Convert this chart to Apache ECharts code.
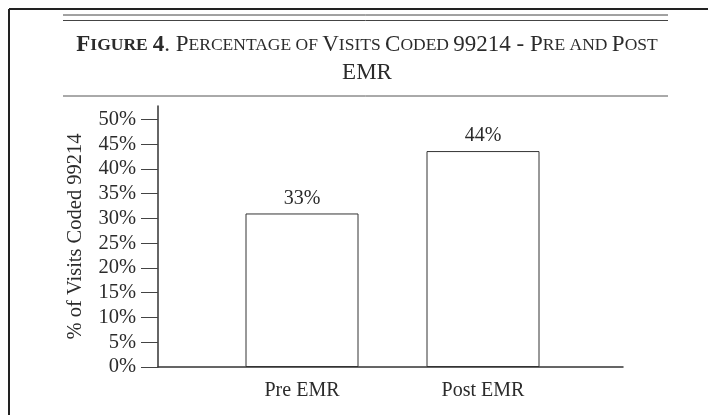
<!DOCTYPE html>
<html>
<head>
<meta charset="utf-8">
<script src="https://cdn.jsdelivr.net/npm/echarts@6/dist/echarts.min.js"></script>
<style>
  html, body { margin: 0; padding: 0; background: #fff; }
  #main { width: 708px; height: 415px; }
</style>
</head>
<body>
<div id="main"></div>
<script>
// data
var categories = ['Pre EMR', 'Post EMR'];
var barValues = [31, 43.6];          // bar heights as drawn
var barLabels = ['33%', '44%'];      // printed labels
var yTicks = [0, 5, 10, 15, 20, 25, 30, 35, 40, 45, 50];

var serif = 'Liberation Serif';
var ink = '#2b2b2b';
var yMax = 52.7;

var myChart = echarts.init(document.getElementById('main'));

var option = {
  backgroundColor: '#fff',
  animation: false,
  title: {
    text: '{bb|F}{bs|IGURE} {bb|4}{c|. P}{s|ERCENTAGE OF }{c|V}{s|ISITS }{c|C}{s|ODED }{c|99214 - P}{s|RE AND }{c|P}{s|OST}\n{c|EMR}',
    left: 362,
    top: 26,
    textAlign: 'center',
    textStyle: {
      fontWeight: 'normal',
      rich: {
        bb: { fontFamily: serif, fontSize: 23, fontWeight: 'bold', color: ink, lineHeight: 28 },
        bs: { fontFamily: serif, fontSize: 17.5, fontWeight: 'bold', color: ink, lineHeight: 28 },
        c: { fontFamily: serif, fontSize: 23, fontWeight: 'normal', color: ink, lineHeight: 28 },
        s: { fontFamily: serif, fontSize: 17.5, fontWeight: 'normal', color: ink, lineHeight: 28 }
      }
    }
  },
  graphic: [
    // frame
    { type: 'line', shape: { x1: 9, y1: 9, x2: 9, y2: 415 }, style: { stroke: '#222', lineWidth: 2 } },
    { type: 'line', shape: { x1: 9, y1: 9, x2: 708, y2: 9 }, style: { stroke: '#222', lineWidth: 2 } },
    // double rule
    { type: 'line', shape: { x1: 63, y1: 15, x2: 668, y2: 15 }, style: { stroke: '#444', lineWidth: 1 } },
    { type: 'line', shape: { x1: 63, y1: 20.5, x2: 668, y2: 20.5 }, style: { stroke: '#444', lineWidth: 1 } },
    // rule under title
    { type: 'line', shape: { x1: 63, y1: 96, x2: 668, y2: 96 }, style: { stroke: '#555', lineWidth: 1 } }
  ],
  grid: [
    { left: 158, right: 85, top: 106, bottom: 48 },
    { left: 211.5, width: 362, top: 106, bottom: 48 }
  ],
  xAxis: [
    {
      type: 'category', gridIndex: 0, data: categories,
      axisLine: { lineStyle: { color: '#333', width: 1.5 } },
      axisTick: { show: false },
      axisLabel: { show: false }
    },
    {
      type: 'category', gridIndex: 1, data: categories,
      axisLine: { show: false },
      axisTick: { show: false },
      axisLabel: { fontFamily: serif, fontSize: 20, color: ink, margin: 14 }
    }
  ],
  yAxis: [
    {
      type: 'value', gridIndex: 0, min: 0, max: yMax,
      name: '% of Visits Coded 99214',
      nameLocation: 'middle',
      nameGap: 72,
      nameTextStyle: { fontFamily: serif, fontSize: 20.5, color: ink },
      axisLine: { show: true, lineStyle: { color: '#333', width: 1.5 } },
      axisTick: { show: true, length: 17, customValues: yTicks, lineStyle: { color: '#444' } },
      axisLabel: {
        customValues: yTicks,
        fontFamily: serif, fontSize: 20.5, color: ink, margin: 22,
        formatter: function (v) { return v + '%'; }
      },
      splitLine: { show: false }
    },
    {
      type: 'value', gridIndex: 1, min: 0, max: yMax, show: false
    }
  ],
  series: [{
    type: 'bar',
    xAxisIndex: 1,
    yAxisIndex: 1,
    data: barValues,
    barWidth: 113,
    itemStyle: { color: '#fff', borderColor: '#333', borderWidth: 1 },
    label: {
      show: true,
      position: 'top',
      distance: 5,
      fontFamily: serif, fontSize: 20, color: ink,
      formatter: function (p) { return barLabels[p.dataIndex]; }
    }
  }]
};

myChart.setOption(option);
</script>
</body>
</html>
